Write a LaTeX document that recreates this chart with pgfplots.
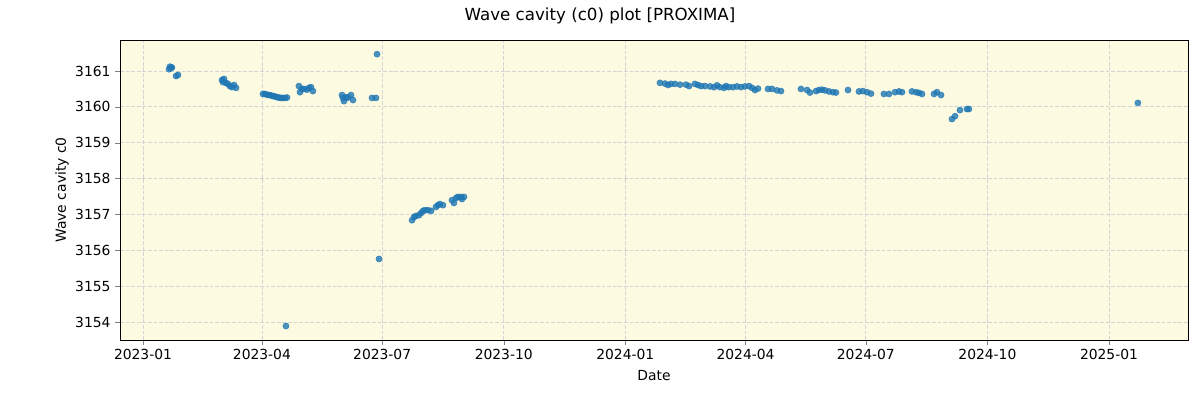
\documentclass[border=0pt]{standalone}
\usepackage{pgfplots}
\pgfplotsset{compat=1.18}
\usepackage{fontspec}
\setmainfont{DejaVu Sans}
\definecolor{bgc}{RGB}{252,251,226}
\definecolor{pt}{RGB}{31,119,180}
\begin{document}
\begin{tikzpicture}
\useasboundingbox (-90pt,-45pt) rectangle (810pt,255pt);
\begin{axis}[
  scale only axis, width=801pt, height=225pt,
  axis background/.style={fill=bgc},
  xmin=-17.4, xmax=790.8, ymin=3153.50, ymax=3161.865,
  xtick={0,90,181,273,365,456,547,639,731},
  xticklabels={2023-01,2023-04,2023-07,2023-10,2024-01,2024-04,2024-07,2024-10,2025-01},
  ytick={3154,3155,3156,3157,3158,3159,3160,3161},
  /pgf/number format/assume math mode=true,
  yticklabel style={/pgf/number format/.cd,fixed,1000 sep={}},
  tick label style={font=\fontsize{10.4}{12}\selectfont},
  tick align=outside, tick pos=left, major tick length=3.6pt,
  grid=major, major grid style={dash pattern=on 2.8pt off 1.4pt, color=black!17, line width=0.6pt},
  xlabel={Date}, ylabel={Wave cavity c0},
  label style={font=\fontsize{10.4}{12}\selectfont},
  xlabel style={yshift=-1pt},
  ylabel style={yshift=-2pt},
  axis line style={line width=0.6pt},
]
\addplot[only marks, mark=*, mark size=2.3pt, color=pt, fill opacity=0.8, draw opacity=0.8] table {
x y
19.7 3161.05
20.4 3161.12
21.2 3161.08
21.9 3161.10
25.0 3160.86
26.5 3160.89
59.8 3160.75
60.5 3160.69
61.3 3160.78
62.8 3160.67
64.3 3160.64
65.8 3160.58
67.3 3160.55
68.9 3160.61
70.4 3160.53
90.8 3160.36
92.3 3160.36
93.8 3160.34
95.3 3160.33
96.9 3160.32
98.4 3160.30
99.9 3160.29
101.4 3160.27
102.9 3160.26
104.4 3160.25
105.9 3160.25
107.5 3160.25
109.0 3160.26
108.2 3153.89
118.0 3160.58
118.8 3160.41
120.3 3160.50
121.8 3160.50
124.1 3160.48
125.6 3160.53
127.1 3160.55
128.6 3160.44
150.6 3160.33
151.3 3160.25
152.1 3160.16
153.6 3160.27
155.1 3160.26
157.4 3160.33
158.9 3160.19
173.3 3160.25
176.3 3160.25
177.1 3161.47
178.6 3155.76
203.6 3156.84
205.1 3156.93
206.6 3156.96
208.9 3156.98
210.4 3157.04
211.9 3157.10
213.4 3157.12
215.7 3157.12
218.0 3157.10
221.7 3157.21
223.2 3157.26
224.7 3157.29
227.0 3157.26
233.8 3157.40
235.3 3157.32
236.9 3157.46
238.4 3157.49
240.6 3157.49
242.9 3157.49
241.4 3157.43
391.2 3160.67
395.0 3160.65
397.3 3160.61
399.5 3160.64
402.6 3160.64
406.4 3160.62
410.9 3160.62
413.2 3160.58
417.7 3160.64
420.0 3160.61
422.3 3160.58
425.3 3160.58
429.1 3160.57
432.1 3160.55
434.4 3160.60
436.6 3160.55
439.7 3160.53
441.2 3160.58
443.4 3160.55
446.5 3160.55
449.5 3160.57
452.5 3160.55
455.5 3160.57
458.6 3160.58
460.9 3160.53
463.1 3160.47
465.4 3160.51
473.0 3160.50
476.0 3160.50
479.8 3160.46
482.8 3160.44
497.9 3160.50
502.5 3160.47
504.7 3160.40
509.3 3160.44
511.5 3160.47
513.8 3160.48
516.1 3160.46
519.1 3160.43
522.1 3160.41
524.4 3160.40
533.5 3160.47
541.8 3160.43
544.8 3160.44
547.9 3160.41
550.9 3160.37
560.7 3160.36
564.5 3160.36
569.1 3160.41
572.1 3160.43
574.4 3160.41
581.9 3160.43
585.0 3160.41
587.2 3160.39
589.5 3160.36
598.6 3160.36
600.8 3160.41
603.9 3160.33
612.2 3159.66
614.5 3159.74
618.2 3159.91
623.5 3159.94
625.0 3159.94
752.9 3160.11
};
\end{axis}
\node[font=\fontsize{12.5}{15}\selectfont] at (360pt,243pt) {Wave cavity (c0) plot [PROXIMA]};
\end{tikzpicture}
\end{document}
